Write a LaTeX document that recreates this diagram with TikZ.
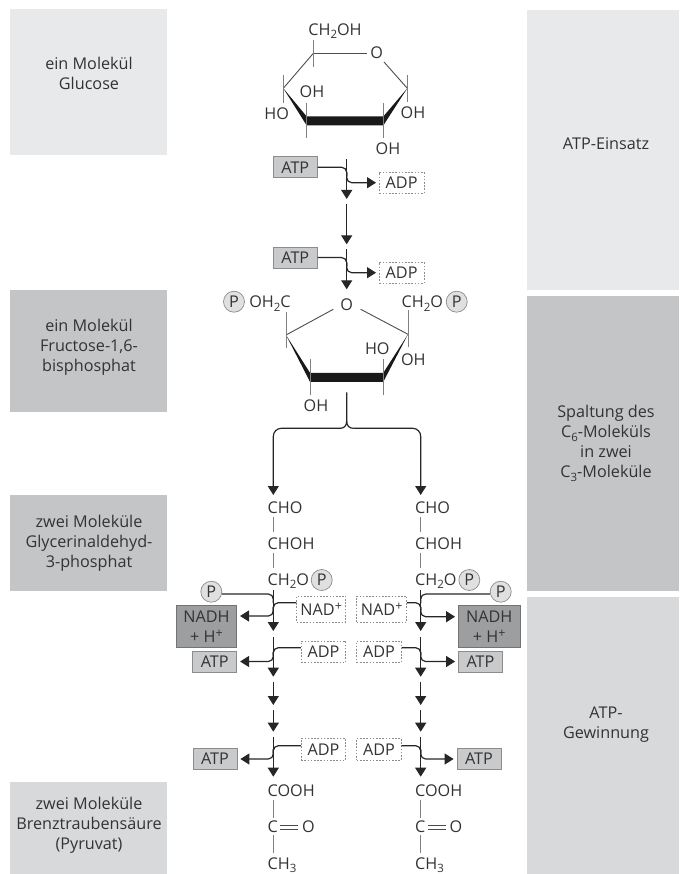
\documentclass[tikz,border=0pt]{standalone}
\usepackage{fontspec}
\setmainfont{Open Sans}
\usetikzlibrary{arrows.meta}
\definecolor{txtgrey}{HTML}{333335}
\definecolor{palegrey}{HTML}{E8E9EB}
\definecolor{midgrey}{HTML}{D8D9DB}
\definecolor{darkgrey}{HTML}{C4C5C7}
\definecolor{atpgrey}{HTML}{C9CACC}
\definecolor{nadhgrey}{HTML}{9D9EA0}
\newcommand{\chemsub}[1]{\raisebox{-3.5pt}{\fontsize{11.5}{11.5}\selectfont #1}}
\newcommand{\chemsup}[1]{\raisebox{5pt}{\fontsize{12.5}{12.5}\selectfont #1}}
\tikzset{
  every node/.style={text=txtgrey, font=\fontsize{16.2}{20}\selectfont, inner sep=0pt},
  labeltext/.style={align=center},
  atpbox/.style={draw=black!45, line width=0.8pt, fill=atpgrey, minimum width=44pt, minimum height=21pt},
  nadhbox/.style={draw=black!55, line width=0.8pt, fill=nadhgrey, minimum height=42pt, align=center},
  dashbox/.style={draw=black!45, dash pattern=on 1.6pt off 1.6pt, line width=0.6pt, minimum height=21.5pt},
  pcircle/.style={circle, draw=black!45, line width=0.7pt, fill=black!12, minimum size=21pt},
  chem/.style={anchor=base west},
  ringline/.style={draw=black!70, line width=0.9pt},
  tickline/.style={draw=black!50, line width=0.9pt},
  stepline/.style={draw=black!85, line width=1.2pt},
  steparrow/.style={stepline, -{Triangle[length=9pt,width=11pt]}},
  bendline/.style={stepline, rounded corners=5pt},
  bendarrow/.style={steparrow, rounded corners=5pt, shorten >=3pt},
}
\begin{document}
\begin{tikzpicture}[x=1pt,y=-1pt]
\useasboundingbox (0,0) rectangle (679,874);
\fill[palegrey] (10,9) rectangle (167,155);
\fill[darkgrey] (10,290) rectangle (167,412);
\fill[darkgrey] (10,495) rectangle (167,591);
\fill[midgrey] (10,782) rectangle (167,874);
\fill[palegrey] (527,10) rectangle (679,290);
\fill[darkgrey] (527,296) rectangle (679,591);
\fill[midgrey] (527,597) rectangle (679,874);
\node[labeltext] (glucose) at (89,73.5) {ein Molekül\\Glucose};
\node[labeltext] (fructose) at (89,347) {ein Molekül\\Fructose-1,6-\\bisphosphat};
\node[labeltext] (gap) at (89,543.5) {zwei Moleküle\\Glycerinaldehyd-\\3-phosphat};
\node[labeltext] (pyruvat) at (89,825) {zwei Moleküle\\Brenztraubensäure\\(Pyruvat)};
\node[labeltext] (einsatz) at (606,144) {ATP-Einsatz};
\node[labeltext] (spaltung) at (606,443.5) {Spaltung des\\C\chemsub{6}-Moleküls\\in zwei\\C\chemsub{3}-Moleküle};
\node[labeltext] (gewinnung) at (606,725) {ATP-\\Gewinnung};

\coordinate (ga) at (313.3,53.3);
\coordinate (gb) at (407.3,88.3);
\coordinate (gc) at (383.3,121);
\coordinate (gd) at (306.7,121);
\coordinate (ge) at (283.3,88.3);
\node (go) at (376.7,53) {O};
\draw[ringline] (ga) -- (367,53.3);
\draw[ringline] (384,62) -- (gb);
\draw[ringline] (ge) -- (ga);
\fill[black!90] (ge) -- ([yshift=4.5pt]gd) -- ([yshift=4.5pt]gc) -- (gb) -- ([yshift=-4.5pt]gc) -- ([yshift=-4.5pt]gd) -- cycle;
\draw[tickline] (313.3,40) -- (313.3,66.7);
\draw[tickline] (283.3,75) -- (283.3,103);
\draw[tickline] (407.3,75) -- (407.3,102);
\draw[tickline] (306.7,103) -- (306.7,138);
\draw[tickline] (383.3,103) -- (383.3,138);
\node (gch) at (335,31) {CH\chemsub{2}OH};
\node (goha) at (312,92) {OH};
\node (ghoa) at (276.7,113.3) {HO};
\node (gohb) at (413,113) {OH};
\node (gohc) at (388,149) {OH};

\node[atpbox] (atpa) at (295.3,167.3) {ATP};
\node[dashbox, minimum width=44.5pt] (adpa) at (401.6,182.7) {ADP};
\node[atpbox] (atpb) at (295.3,257.6) {ATP};
\node[dashbox, minimum width=44.5pt] (adpb) at (401.6,272.7) {ADP};
\coordinate (topa) at (346.7,159.3);
\coordinate (tipa) at (346.7,199);
\coordinate (topb) at (346.7,204);
\coordinate (tipb) at (346.7,244.3);
\coordinate (topc) at (346.7,249.3);
\coordinate (tipc) at (346.7,289.3);
\draw[steparrow] (topa) -- (tipa);
\draw[steparrow] (topb) -- (tipb);
\draw[steparrow] (topc) -- (tipc);
\draw[bendline] (atpa.east) -- (atpa.east -| topa) -- ++(0,9);
\draw[bendline] (atpb.east) -- (atpb.east -| topc) -- ++(0,9);
\draw[bendarrow] ([yshift=10pt]adpa.west -| topa) -- (adpa.west -| topa) -- (adpa.west);
\draw[bendarrow] ([yshift=10pt]adpb.west -| topc) -- (adpb.west -| topc) -- (adpb.west);

\coordinate (fa) at (286,335);
\coordinate (fb) at (408,334.3);
\coordinate (fc) at (383.3,377.3);
\coordinate (fd) at (310,377.3);
\node (fo) at (346.7,305) {O};
\draw[ringline] (fa) -- (333.3,309.3);
\draw[ringline] (fb) -- (360.7,309.3);
\fill[black!90] (fa) -- ([yshift=4.5pt]fd) -- ([yshift=4.5pt]fc) -- (fb) -- ([yshift=-4.5pt]fc) -- ([yshift=-4.5pt]fd) -- cycle;
\draw[tickline] (286,311.7) -- (286,347.7);
\draw[tickline] (408,310) -- (408,346.7);
\draw[tickline] (310.7,359.3) -- (310.7,395);
\draw[tickline] (383.3,359.3) -- (383.3,395);
\node[pcircle] (fpa) at (234,301.7) {P};
\node (foh) at (270,303.5) {OH\chemsub{2}C};
\node (fch) at (422.3,303.5) {CH\chemsub{2}O};
\node[pcircle] (fpb) at (456.7,301.7) {P};
\node (fho) at (377.3,348.3) {HO};
\node (foha) at (413.3,359.3) {OH};
\node (fohb) at (316,406) {OH};

\coordinate (split) at (346.7,392.3);
\coordinate (splitl) at (273.3,495);
\coordinate (splitr) at (420.7,495);
\draw[stepline] (split) -- (346.7,421) .. controls (346.7,426) and (344,428.3) .. (340,428.3);
\draw[stepline] (346.7,421) .. controls (346.7,426) and (349.4,428.3) .. (353.4,428.3);
\draw[steparrow, rounded corners=8pt] (340,428.3) -- (273.3,428.3) -- (splitl);
\draw[steparrow, rounded corners=8pt] (353.4,428.3) -- (420.7,428.3) -- (splitr);

\node[chem] (chol) at (267.5,513.5) {CHO};
\node[chem] (choll) at (267.5,549) {CHOH};
\node[chem] (chpl) at (267.5,585) {CH\chemsub{2}O};
\node[pcircle] (ppl) at (321.7,580) {P};
\node[chem] (chor) at (415,513.5) {CHO};
\node[chem] (chorr) at (415,549) {CHOH};
\node[chem] (chpr) at (415,585) {CH\chemsub{2}O};
\node[pcircle] (ppr) at (469.3,580) {P};
\draw[tickline] (273.3,517) -- (273.3,532);
\draw[tickline] (273.3,553) -- (273.3,568);
\draw[tickline] (420.7,517) -- (420.7,532);
\draw[tickline] (420.7,553) -- (420.7,568);

\node[pcircle] (pal) at (211.3,591.7) {P};
\node[pcircle] (par) at (500.7,591.7) {P};
\node[nadhbox, minimum width=60.5pt] (nadhl) at (206.4,626.7) {NADH\\+ H\chemsup{+}};
\node[nadhbox, minimum width=61.5pt] (nadhr) at (489.2,626.7) {NADH\\+ H\chemsup{+}};
\node[atpbox] (atpl) at (214.7,661.5) {ATP};
\node[atpbox] (atpr) at (480.5,661.5) {ATP};
\node[dashbox, minimum width=49pt, minimum height=26pt] (nadl) at (321.2,609) {NAD\chemsup{+}};
\node[dashbox, minimum width=50pt, minimum height=26pt] (nadr) at (381.7,609) {NAD\chemsup{+}};
\node[dashbox, minimum width=44.5pt] (adpl) at (323.5,651.8) {ADP};
\node[dashbox, minimum width=44.5pt] (adpr) at (379,651.8) {ADP};
\node[atpbox] (atpll) at (215,759) {ATP};
\node[atpbox] (atprr) at (479,759) {ATP};
\node[dashbox, minimum width=44.5pt] (adpll) at (323.5,749.3) {ADP};
\node[dashbox, minimum width=44.5pt] (adprr) at (379,749.3) {ADP};

\coordinate (la) at (273.3,590);
\coordinate (lb) at (273.3,631);
\coordinate (lc) at (273.3,636.7);
\coordinate (ld) at (273.3,676.7);
\coordinate (le) at (273.3,681.7);
\coordinate (lf) at (273.3,705);
\coordinate (lg) at (273.3,710);
\coordinate (lh) at (273.3,731.7);
\coordinate (li) at (273.3,736.7);
\coordinate (lj) at (273.3,776.7);
\coordinate (ra) at (420.7,590);
\coordinate (rb) at (420.7,631);
\coordinate (rc) at (420.7,636.7);
\coordinate (rd) at (420.7,676.7);
\coordinate (re) at (420.7,681.7);
\coordinate (rf) at (420.7,705);
\coordinate (rg) at (420.7,710);
\coordinate (rh) at (420.7,731.7);
\coordinate (ri) at (420.7,736.7);
\coordinate (rj) at (420.7,776.7);
\draw[steparrow] (la) -- (lb);
\draw[steparrow] (lc) -- (ld);
\draw[steparrow] (le) -- (lf);
\draw[steparrow] (lg) -- (lh);
\draw[steparrow] (li) -- (lj);
\draw[steparrow] (ra) -- (rb);
\draw[steparrow] (rc) -- (rd);
\draw[steparrow] (re) -- (rf);
\draw[steparrow] (rg) -- (rh);
\draw[steparrow] (ri) -- (rj);

\draw[bendline] ([yshift=-2.3pt]pal.east) -- ([yshift=-2.3pt]pal.east -| la) -- ++(0,9);
\draw[bendline] ([yshift=-2.3pt]par.west) -- ([yshift=-2.3pt]par.west -| ra) -- ++(0,9);
\draw[bendline] ([yshift=6.3pt]nadl.west) -- ([yshift=6.3pt]nadl.west -| la) -- ++(0,9);
\draw[bendline] ([yshift=6.3pt]nadr.east) -- ([yshift=6.3pt]nadr.east -| ra) -- ++(0,9);
\draw[bendarrow] ([yshift=20pt]nadhl.east -| la) -- ([yshift=10.7pt]nadhl.east -| la) -- ([yshift=10.7pt]nadhl.east);
\draw[bendarrow] ([yshift=20pt]nadhr.west -| ra) -- ([yshift=10pt]nadhr.west -| ra) -- ([yshift=10pt]nadhr.west);
\draw[bendline] ([yshift=4.1pt]adpl.west) -- ([yshift=4.1pt]adpl.west -| la) -- ++(0,8);
\draw[bendline] ([yshift=4.1pt]adpr.east) -- ([yshift=4.1pt]adpr.east -| ra) -- ++(0,8);
\draw[bendarrow] ([yshift=10pt]atpl.east -| la) -- (atpl.east -| la) -- (atpl.east);
\draw[bendarrow] ([yshift=10pt]atpr.west -| ra) -- (atpr.west -| ra) -- (atpr.west);
\draw[bendline] ([yshift=3.6pt]adpll.west) -- ([yshift=3.6pt]adpll.west -| li) -- ++(0,8);
\draw[bendline] ([yshift=3.6pt]adprr.east) -- ([yshift=3.6pt]adprr.east -| ri) -- ++(0,8);
\draw[bendarrow] ([yshift=10pt]atpll.east -| li) -- (atpll.east -| li) -- (atpll.east);
\draw[bendarrow] ([yshift=10pt]atprr.west -| ri) -- (atprr.west -| ri) -- (atprr.west);

\node[chem] (cool) at (267.5,796.5) {COOH};
\node[chem] (cl) at (267.5,832.5) {C};
\node[chem] (ol) at (302,832.5) {O};
\node[chem] (chl) at (267.5,869) {CH\chemsub{3}};
\node[chem] (coor) at (415,796.5) {COOH};
\node[chem] (cr) at (415,832.5) {C};
\node[chem] (or) at (449.5,832.5) {O};
\node[chem] (chr) at (415,869) {CH\chemsub{3}};
\draw[tickline] (273.3,800) -- (273.3,818);
\draw[tickline] (273.3,835) -- (273.3,853);
\draw[tickline] (420.7,800) -- (420.7,818);
\draw[tickline] (420.7,835) -- (420.7,853);
\draw[ringline] (280,825) -- (298,825);
\draw[ringline] (280,829.3) -- (298,829.3);
\draw[ringline] (427.5,825) -- (445.5,825);
\draw[ringline] (427.5,829.3) -- (445.5,829.3);
\end{tikzpicture}
\end{document}
